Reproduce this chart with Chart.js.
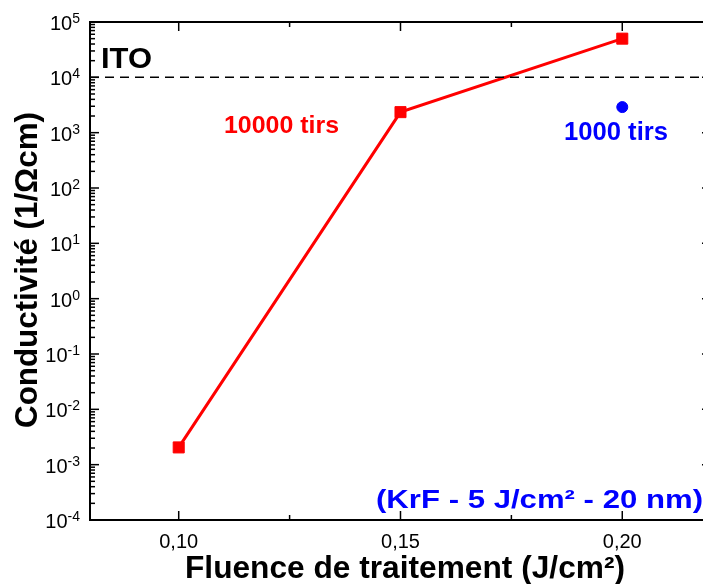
<!DOCTYPE html>
<html><head><meta charset="utf-8">
<script src="https://cdn.jsdelivr.net/npm/chart.js@4"></script>
<style>html,body{margin:0;padding:0;overflow:hidden;background:#fff}</style>
</head><body>
<canvas id="c" width="703" height="584" style="width:703px;height:584px;display:block"></canvas>
<script>
// ---- data ----
const fluence10000 = [0.10, 0.15, 0.20];
const conductivity10000 = [2.05e-3, 2.35e3, 5.0e4];
const fluence1000 = [0.20];
const conductivity1000 = [2.9e3];
const itoLevel = [1e4, 1e4];
const itoFluence = [0.08, 0.2182];
const xRange = [0.08, 0.2182];   // visible part of the axis (frame continues to 0.22 off-page)
const xFrameMax = 0.22;
const yRange = [1e-4, 1e5];
const xMajorTicks = [0.10, 0.15, 0.20];
const xMinorTicks = [0.125, 0.175];
const xTickLabels = ['0,10', '0,15', '0,20'];
const yExponents = [-4, -3, -2, -1, 0, 1, 2, 3, 4, 5];
const xTitle = 'Fluence de traitement (J/cm\u00B2)';
const yTitle = 'Conductivit\u00E9 (1/\u03A9cm)';
const noteITO = 'ITO';
const note10000 = '10000 tirs';
const note1000 = '1000 tirs';
const noteKrF = '(KrF - 5 J/cm\u00B2 - 20 nm)';

const FONT = '"Liberation Sans", Arial, sans-serif';

function stretchText(ctx, text, x, y, font, color, width, rotate) {
  ctx.save();
  ctx.font = font; ctx.fillStyle = color;
  ctx.textAlign = 'left'; ctx.textBaseline = 'alphabetic';
  const w = ctx.measureText(text).width;
  const s = width / w;
  ctx.translate(x, y);
  if (rotate) ctx.rotate(-Math.PI / 2);
  ctx.scale(s, 1);
  ctx.fillText(text, rotate ? -w / 2 : 0, 0);
  ctx.restore();
}

const decorations = {
  id: 'decorations',
  afterDraw(chart) {
    const ctx = chart.ctx, a = chart.chartArea;
    const xs = chart.scales.x, ys = chart.scales.y;
    const rightAxis = xs.getPixelForValue(xFrameMax);
    ctx.save();
    ctx.strokeStyle = '#000'; ctx.lineWidth = 1.5;
    const tick = (x1, y1, x2, y2) => { ctx.beginPath(); ctx.moveTo(x1, y1); ctx.lineTo(x2, y2); ctx.stroke(); };
    xMajorTicks.forEach(v => { const p = xs.getPixelForValue(v); tick(p, a.bottom, p, a.bottom - 9); tick(p, a.top, p, a.top + 9); });
    xMinorTicks.forEach(v => { const p = xs.getPixelForValue(v); tick(p, a.bottom, p, a.bottom - 5); tick(p, a.top, p, a.top + 5); });
    yExponents.forEach(e => {
      const p = ys.getPixelForValue(Math.pow(10, e));
      tick(a.left, p, a.left + 9, p); tick(rightAxis, p, rightAxis - 9, p);
      if (e < yExponents[yExponents.length - 1]) {
        for (let m = 2; m <= 9; m++) {
          const q = ys.getPixelForValue(m * Math.pow(10, e));
          tick(a.left, q, a.left + 5, q); tick(rightAxis, q, rightAxis - 5, q);
        }
      }
    });
    ctx.lineWidth = 2;
    ctx.beginPath();
    ctx.moveTo(rightAxis, a.top); ctx.lineTo(a.left, a.top); ctx.lineTo(a.left, a.bottom); ctx.lineTo(rightAxis, a.bottom);
    ctx.stroke();
    ctx.fillStyle = '#000'; ctx.textBaseline = 'alphabetic'; ctx.textAlign = 'left';
    yExponents.forEach(e => {
      const p = ys.getPixelForValue(Math.pow(10, e));
      const ex = String(e);
      ctx.font = '14px ' + FONT;
      const ew = ctx.measureText(ex).width;
      ctx.font = '20px ' + FONT;
      const bw = ctx.measureText('10').width;
      const right = 80;
      ctx.fillText('10', right - ew - bw, p + 8);
      ctx.font = '14px ' + FONT;
      ctx.fillText(ex, right - ew, p + 1);
    });
    ctx.font = '20px ' + FONT; ctx.textAlign = 'center';
    xMajorTicks.forEach((v, i) => ctx.fillText(xTickLabels[i], xs.getPixelForValue(v), 548));
    ctx.restore();
    stretchText(ctx, xTitle, 185, 578, 'bold 31px ' + FONT, '#000', 440);
    stretchText(ctx, yTitle, 37, 270, 'bold 31px ' + FONT, '#000', 316, true);
    stretchText(ctx, noteITO, 101, 68, 'bold 29px ' + FONT, '#000', 51);
    stretchText(ctx, note10000, 224, 133, 'bold 24px ' + FONT, '#ff0000', 115);
    stretchText(ctx, note1000, 564, 140, 'bold 25px ' + FONT, '#0000ff', 104);
    stretchText(ctx, noteKrF, 376, 508, 'bold 25px ' + FONT, '#0000ff', 327);
  }
};

new Chart(document.getElementById('c'), {
  type: 'scatter',
  data: {
    datasets: [
      {
        label: 'ITO',
        data: itoFluence.map((x, i) => ({ x, y: itoLevel[i] })),
        showLine: true, borderColor: '#000', borderWidth: 1.5, borderDash: [9, 6],
        pointRadius: 0, fill: false
      },
      {
        label: '10000 tirs',
        data: fluence10000.map((x, i) => ({ x, y: conductivity10000[i] })),
        showLine: true, borderColor: '#ff0000', backgroundColor: '#ff0000', borderWidth: 3,
        pointStyle: 'rect', pointRadius: 7.8, pointBorderWidth: 1, pointBorderColor: '#ff0000'
      },
      {
        label: '1000 tirs',
        data: fluence1000.map((x, i) => ({ x, y: conductivity1000[i] })),
        showLine: false, borderColor: '#0000ff', backgroundColor: '#0000ff',
        pointStyle: 'circle', pointRadius: 5.5, pointBorderWidth: 1
      }
    ]
  },
  options: {
    responsive: false, animation: false, devicePixelRatio: 1,
    layout: { autoPadding: false, padding: { left: 90, right: 0, top: 22, bottom: 64 } },
    plugins: { legend: { display: false }, tooltip: { enabled: false } },
    scales: {
      x: { type: 'linear', min: xRange[0], max: xRange[1], display: false },
      y: { type: 'logarithmic', min: yRange[0], max: yRange[1], display: false }
    }
  },
  plugins: [decorations]
});
</script>
</body></html>
